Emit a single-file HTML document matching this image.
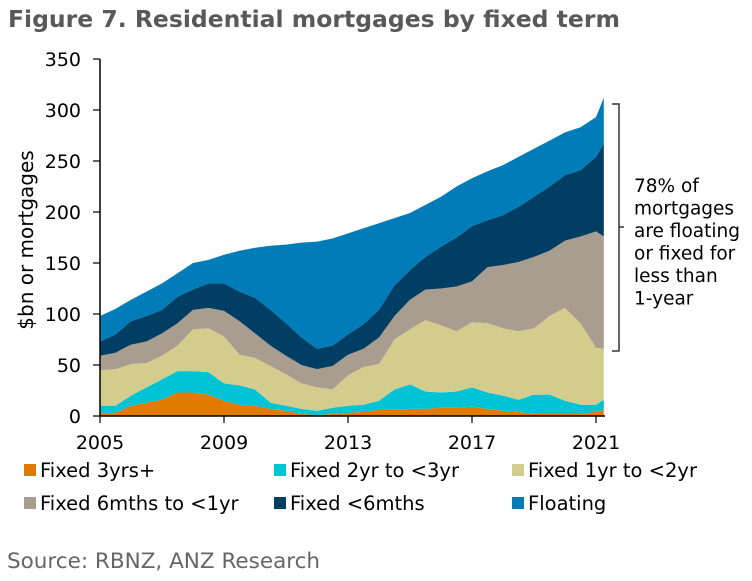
<!DOCTYPE html>
<html><head><meta charset="utf-8"><style>
body{margin:0;background:#fff;}
svg text{font-family:"DejaVu Sans","Liberation Sans",sans-serif;}
</style></head><body>
<svg width="752" height="576" viewBox="0 0 752 576" xmlns="http://www.w3.org/2000/svg">
<text x="8" y="27" font-size="23.5" font-weight="bold" fill="#595959">Figure 7. Residential mortgages by fixed term</text>
<g id="areas"></g>
<g id="axes"></g>
<text transform="translate(33,240) rotate(-90)" text-anchor="middle" font-size="20" fill="#000">$bn or mortgages</text>
<path d="M612,104 H619 V227 H624 M619,227 V351 H612" fill="none" stroke="#333" stroke-width="1.5"/>
<g font-size="18.5" fill="#000">
<text x="634" y="192">78% of</text>
<text x="634" y="214.5">mortgages</text>
<text x="634" y="237">are floating</text>
<text x="634" y="259.5">or fixed for</text>
<text x="634" y="282">less than</text>
<text x="634" y="304.5">1-year</text>
</g>
<g id="legend"></g>
<text x="7" y="568" font-size="21.5" fill="#666">Source: RBNZ, ANZ Research</text>
</svg>
<script>
const dates=[2005,2005.5,2006,2006.5,2007,2007.5,2008,2008.5,2009,2009.5,2010,2010.5,2011,2011.5,2012,2012.5,2013,2013.5,2014,2014.5,2015,2015.5,2016,2016.5,2017,2017.5,2018,2018.5,2019,2019.5,2020,2020.5,2021,2021.25];
const fixed3=[3,3,10,13,16,23,23,21,15,11,10,7,5,2,1,2,3,4,6,6,7,7,8,8,9,7,5,4,2,2,2,2,4,6];
const fixed2=[7,7,10,15,20,21,21,22,17,19,16,6,5,5,4,6,7,7,9,20,24,17,15,16,19,16,15,12,19,19,13,9,7,10];
const fixed1=[35,36,31,24,23,25,41,43,46,30,31,36,31,25,23,18,30,37,36,49,54,70,66,59,64,68,66,67,65,77,91,80,56,50];
const fixed6m=[14,16,19,21,22,22,19,20,25,33,24,20,18,18,18,23,20,18,26,23,29,30,36,44,40,55,62,68,70,64,66,85,114,110];
const fixedLt6=[14,18,23,25,23,26,20,24,27,29,35,35,32,27,20,20,20,24,27,30,29,32,41,48,54,46,49,54,59,63,64,65,73,91];
const floating=[25,25,21,24,26,23,26,23,28,40,49,63,77,93,105,105,99,94,85,66,56,51,49,50,47,48,49,49,47,45,42,42,39,45];
const seriesNames=["Fixed 3yrs+","Fixed 2yr to <3yr","Fixed 1yr to <2yr","Fixed 6mths to <1yr","Fixed <6mths","Floating"];
const yTicks=[0,50,100,150,200,250,300,350];
const xTicks=[2005,2009,2013,2017,2021];
const colors=["#e07b00","#00c3d6","#d3cd8d","#a99d8f","#003f63","#007cb9"];
const series=[fixed3,fixed2,fixed1,fixed6m,fixedLt6,floating];
const NS="http://www.w3.org/2000/svg";
const X=t=>100+31*(t-2005);
const Y=v=>416-v*1.02;
const areas=document.getElementById('areas');
let base=dates.map(()=>0);
series.forEach((s,k)=>{
  const top=base.map((b,i)=>b+s[i]);
  let d="M"+dates.map((t,i)=>X(t).toFixed(1)+","+Y(top[i]).toFixed(1)).join(" L");
  for(let i=dates.length-1;i>=0;i--) d+=" L"+X(dates[i]).toFixed(1)+","+Y(base[i]).toFixed(1);
  d+=" Z";
  const p=document.createElementNS(NS,'path');
  p.setAttribute('d',d);p.setAttribute('fill',colors[k]);
  
  
  areas.appendChild(p);
  base=top;
});
const axes=document.getElementById('axes');
function el(tag,attrs,txt){const e=document.createElementNS(NS,tag);for(const a in attrs)e.setAttribute(a,attrs[a]);if(txt!==undefined)e.textContent=txt;axes.appendChild(e);return e;}
const yl=el('line',{x1:100,y1:Y(350),x2:100,y2:416,stroke:'#000','stroke-width':1.5});


const xl=el('line',{x1:100,y1:416,x2:605,y2:416,stroke:'#000','stroke-width':1.5});


yTicks.forEach(v=>{
  const t=el('line',{x1:93,y1:Y(v),x2:100,y2:Y(v),stroke:'#000','stroke-width':1.2});
  
  
  const l=el('text',{x:81,y:Y(v)+7,'text-anchor':'end','font-size':19},String(v));
  
  
});
xTicks.forEach(v=>{
  const t=el('line',{x1:X(v),y1:416,x2:X(v),y2:423,stroke:'#000','stroke-width':1.2});
  
  
  const l=el('text',{x:X(v),y:449,'text-anchor':'middle','font-size':19},String(v));
  
  
});
const lg=document.getElementById('legend');
const lx=[24,274,512],ly=[477,510];
seriesNames.forEach((n,k)=>{
  const g=document.createElementNS(NS,'g');
  
  
  const x=lx[k%3],y=ly[Math.floor(k/3)];
  const r=document.createElementNS(NS,'rect');
  r.setAttribute('x',x);r.setAttribute('y',y-13);r.setAttribute('width',12);r.setAttribute('height',12);r.setAttribute('fill',colors[k]);
  
  
  const t=document.createElementNS(NS,'text');
  t.setAttribute('x',x+16);t.setAttribute('y',y);t.setAttribute('font-size',19.5);t.textContent=n;
  
  
  g.appendChild(r);g.appendChild(t);lg.appendChild(g);
});
</script>
</body></html>
